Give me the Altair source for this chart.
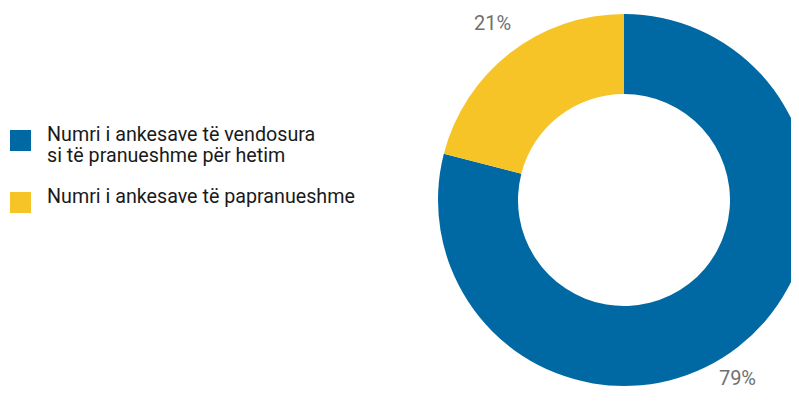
import altair as alt
import pandas as pd

categories = [
    "Numri i ankesave të vendosura\nsi të pranueshme për hetim",
    "Numri i ankesave të papranueshme",
]
values = [79, 21]
labels = ["79%", "21%"]
colors = ["#0069A4", "#F7C427"]

df = pd.DataFrame({
    "cat": categories,
    "val": values,
    "label": labels,
    "ord": list(range(len(categories))),
})

CX, CY = 616, 192

base = alt.Chart(df)

arc = base.mark_arc(outerRadius=186, innerRadius=106, stroke=None).encode(
    theta=alt.Theta("val:Q", stack=True),
    order=alt.Order("ord:Q"),
    color=alt.Color(
        "cat:N",
        sort=categories,
        scale=alt.Scale(domain=categories, range=colors),
        legend=alt.Legend(
            title=None,
            orient="none",
            legendX=2,
            legendY=122,
            symbolType="square",
            symbolSize=441,
            symbolStrokeWidth=0,
            symbolOpacity=1,
            labelFont="Roboto",
            labelFontSize=19.7,
            labelColor="#1a1a1a",
            labelOffset=16,
            labelLimit=400,
            labelBaseline="alphabetic",
            labelExpr="split(datum.label, '\\n')",
            rowPadding=20,
        ),
    ),
    x=alt.value(CX),
    y=alt.value(CY),
)


def text_layer(idx, dx, dy):
    return base.mark_text(
        radius=221, font="Roboto", fontSize=20, color="#707070", dx=dx, dy=dy
    ).encode(
        theta=alt.Theta("val:Q", stack=True),
        order=alt.Order("ord:Q"),
        text="label:N",
        x=alt.value(CX),
        y=alt.value(CY),
        opacity=alt.condition(alt.datum.ord == idx, alt.value(1), alt.value(0)),
    )


lbl_blue = text_layer(0, -22, 4)
lbl_yellow = text_layer(1, 4, -1)

chart = alt.layer(arc, lbl_blue, lbl_yellow).properties(
    width=783, height=385, autosize="none", padding=0
).configure_view(stroke=None)

chart.save("out.html", embed_options={"renderer": "svg", "actions": False})
